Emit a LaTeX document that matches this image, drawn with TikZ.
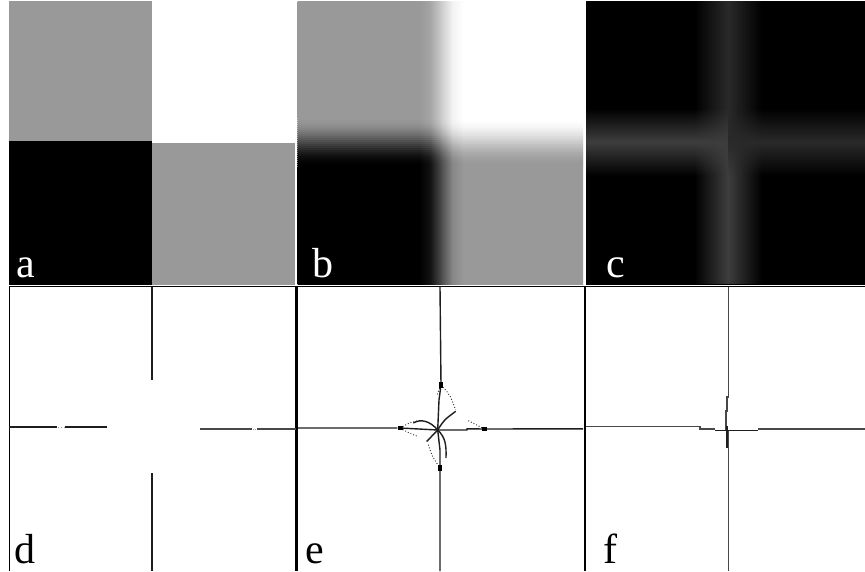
\documentclass[tikz,border=0pt]{standalone}
\usepackage{fontspec}
\setmainfont{Liberation Serif}
\usetikzlibrary{fadings}
\definecolor{cGray}{HTML}{999999}
\definecolor{cEdge}{HTML}{1E1E1E}
\definecolor{cThin}{HTML}{484848}
\definecolor{cGlowHi}{HTML}{3E3E3E}
\definecolor{cGlowLo}{HTML}{2A2A2A}
\tikzfading[name=vband, left color=transparent!100, right color=transparent!100, middle color=transparent!0]
\tikzfading[name=hband, top color=transparent!100, bottom color=transparent!100, middle color=transparent!0]
\tikzset{
  lbl/.style={font=\fontsize{42}{42}\selectfont, inner sep=0pt, anchor=base west},
  frame/.style={draw=black, line width=1pt},
  divider/.style={draw=black, line width=2.6pt},
  edge/.style={cEdge, line width=1.4pt},
  thin/.style={cThin, line width=1.4pt},
  knob/.style={rectangle, fill=black, inner sep=0pt, minimum width=5pt, minimum height=3.5pt},
  vknob/.style={knob, minimum width=3.5pt, minimum height=6pt},
  trace/.style={cEdge, line width=0.9pt, dotted},
}
% one horizontal strip of the blurred squares (panel b), #3 = vertical blend
\newcommand{\blurstrip}[3]{%
  \foreach \xa/\xb/\sa/\sb in {297.5/419/0/0, 419/430/0/0.12, 430/441/0.12/0.5,
                               441/452/0.5/0.88, 452/463/0.88/1, 463/583/1/1}{
    \pgfmathsetmacro\va{0.6+0.4*\sa-0.6*#3+0.2*\sa*#3}
    \pgfmathsetmacro\vb{0.6+0.4*\sb-0.6*#3+0.2*\sb*#3}
    \definecolor{cLeft}{gray}{\va}
    \definecolor{cRight}{gray}{\vb}
    \shade[left color=cLeft, right color=cRight] (\xa,#1) rectangle (\xb+0.6,#2);
  }
}

\begin{document}
\begin{tikzpicture}[x=1pt, y=-1pt]
  \useasboundingbox (0,0) rectangle (865,571);
  \fill[white] (0,0) rectangle (865,571);

  % a: the four squares
  \fill[cGray] (9,1) rectangle (152.3,141.3);
  \fill[white] (152,1) rectangle (294.5,143);
  \fill[black] (9,141) rectangle (152.3,284.5);
  \fill[cGray] (152,143) rectangle (294.5,284.5);

  % b: blurred
  \begin{scope}
    \clip (297.5,1) rectangle (583,284.5);
    \blurstrip{1}{118.6}{0}
    \foreach \k in {0,...,23}{
      \pgfmathsetmacro\uk{(\k+0.5)/24}
      \pgfmathsetmacro\tk{\uk*\uk*(3-2*\uk)}
      \pgfmathsetmacro\ya{118+2*\k}
      \pgfmathsetmacro\yb{120.6+2*\k}
      \blurstrip{\ya}{\yb}{\tk}
    }
    \blurstrip{166}{284.5}{1}
  \end{scope}

  % c: gradient magnitude
  \fill[black] (586,1) rectangle (865,284.5);
  \begin{scope}
    \clip (586,1) rectangle (865,284.5);
    \fill[cGlowLo, path fading=vband] (694,1) rectangle (762,142);
    \fill[cGlowHi, path fading=vband] (694,142) rectangle (762,284.5);
    \fill[cGlowHi, path fading=hband] (586,108) rectangle (728,176);
    \fill[cGlowLo, path fading=hband] (728,108) rectangle (865,176);
  \end{scope}

  \node[lbl, white] (la) at (16,277) {a};
  \node[lbl, white] (lb) at (312,277) {b};
  \node[lbl, white] (lc) at (606,277) {c};

  % frames of the lower row
  \draw[frame] (9,286.3) -- (865,286.3);
  \draw[frame] (9,286.3) -- (9,571);
  \draw[divider] (296.5,286) -- (296.5,571);
  \draw[divider] (585,286) -- (585,571);

  % d
  \draw[edge] (152,287) -- (152,380);
  \draw[edge] (152,473) -- (152,571);
  \draw[edge] (9,427) -- (57,427) (65,427) -- (107,427);
  \draw[thin] (200,429) -- (252,429) (257,429) -- (296,429);
  \draw[trace, cGray] (58,427) -- (64,427);
  \draw[trace, cGray] (252.5,429) -- (256.5,429);

  % e
  \coordinate (ec) at (437.7,430);
  \node[knob] (kw) at (400,428) {};
  \node[knob] (ke) at (484.5,429) {};
  \node[vknob] (kn) at (441,385) {};
  \node[vknob] (ks) at (440,468) {};
  \draw[edge] (298,428) -- (kw) -- (ec);
  \draw[edge] (ec) -- (467,430) -- (467,428.8) -- (ke) -- (583,428.8);
  \draw[edge] (440,287) -- (kn) -- (439,400) -- (ec);
  \draw[edge] (ec) -- (440,450) -- (ks) -- (440,571);
  \draw[edge] (413.3,423) .. controls (421,418.5) and (430,421) .. (ec);
  \draw[edge] (ec) .. controls (444,420) .. (455.7,411.3);
  \draw[edge] (ec) -- (426.7,441.5);
  \draw[edge] (ec) .. controls (445,437) and (446.5,444) .. (446,458);
  \draw[trace] (kn) .. controls (450,395) .. (455.7,410);
  \draw[trace] (kn) -- (436.5,396);
  \draw[trace] (kw) .. controls (409,423) .. (417,421);
  \draw[trace] (kw) .. controls (409,433) .. (418,436.5);
  \draw[trace] (468.3,420.7) -- (ke);
  \draw[trace] (428.3,444.7) .. controls (432,456) .. (ks);

  % f
  \draw[thin] (728.7,287) -- (728.7,397) -- (727,397) -- (727,411) -- (726,411) -- (726,430);
  \draw[thin] (728.3,431) -- (728.3,571);
  \draw[edge] (727,426) -- (727,448);
  \draw[thin] (586,426.7) -- (700,426.7) -- (700,429) -- (715,429);
  \draw[edge] (715,430.7) -- (758,430.7);
  \draw[thin] (758,429) -- (865,429);

  \node[lbl] (ld) at (14,563) {d};
  \node[lbl] (le) at (305,563) {e};
  \node[lbl] (lf) at (603,563) {f};
\end{tikzpicture}
\end{document}
